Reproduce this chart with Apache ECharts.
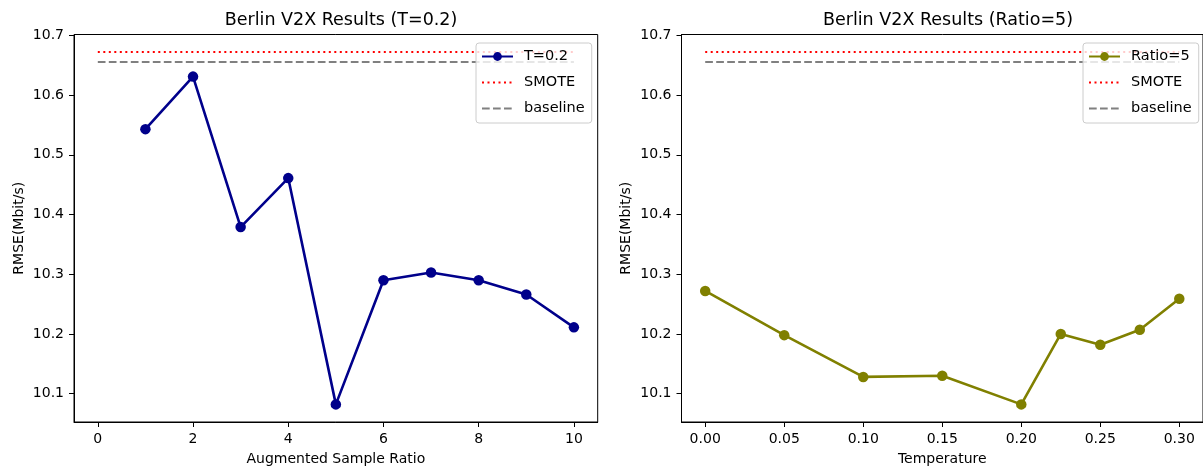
<!DOCTYPE html>
<html><head><meta charset="utf-8">
<script src="https://cdn.jsdelivr.net/npm/echarts@6/dist/echarts.min.js"></script>
<style>html,body{margin:0;padding:0;background:#fff}#c{width:1203px;height:471px}</style>
</head><body><div id="c"></div>
<script>
// ---- data ----
const ratioValues = [1, 2, 3, 4, 5, 6, 7, 8, 9, 10];
const ratioRmse = [10.543, 10.631, 10.379, 10.461, 10.082, 10.290, 10.303, 10.290, 10.266, 10.211];
const tempValues = [0, 0.05, 0.10, 0.15, 0.20, 0.225, 0.25, 0.275, 0.30];
const tempRmse = [10.272, 10.198, 10.128, 10.130, 10.082, 10.200, 10.182, 10.207, 10.259];
const smoteRmse = 10.672;
const baselineRmse = 10.6555;
const ratioTicks = [0, 2, 4, 6, 8, 10];
const tempTicks = [0, 0.05, 0.10, 0.15, 0.20, 0.25, 0.30];
const rmseTicks = [10.1, 10.2, 10.3, 10.4, 10.5, 10.6, 10.7];
const titles = ['Berlin V2X Results (T=0.2)', 'Berlin V2X Results (Ratio=5)'];
const xNames = ['Augmented Sample Ratio', 'Temperature'];
const yName = 'RMSE(Mbit/s)';
const mainNames = ['T=0.2', 'Ratio=5'];

// ---- chart ----
const FF = 'DejaVu Sans';
const chart = echarts.init(document.getElementById('c'), null, {renderer: 'canvas'});
const yMin = 10.0525, yMax = 10.7015;

function xAxis(idx, min, max, ticks, fmt) {
  return {
    type: 'value', gridIndex: idx, min: min, max: max,
    name: xNames[idx], nameLocation: 'middle', nameGap: 30,
    nameTextStyle: {fontFamily: FF, fontSize: 14, color: '#000'},
    axisLine: {show: true, onZero: false, lineStyle: {color: '#000', width: 1}},
    axisTick: {show: true, length: 5, inside: false, customValues: ticks, lineStyle: {color: '#000', width: 1}},
    axisLabel: {customValues: ticks, margin: 10, fontFamily: FF, fontSize: 14, color: '#000', formatter: fmt},
    splitLine: {show: false}
  };
}
function yAxis(idx) {
  return {
    type: 'value', gridIndex: idx, min: yMin, max: yMax,
    name: yName, nameLocation: 'middle', nameGap: 48,
    nameTextStyle: {fontFamily: FF, fontSize: 14, color: '#000'},
    axisLine: {show: true, onZero: false, lineStyle: {color: '#000', width: 1}},
    axisTick: {show: true, length: 5, inside: false, customValues: rmseTicks, lineStyle: {color: '#000', width: 1}},
    axisLabel: {customValues: rmseTicks, margin: 10, fontFamily: FF, fontSize: 14, color: '#000', formatter: v => v.toFixed(1)},
    splitLine: {show: false}
  };
}
function legend(idx, left) {
  return {
    orient: 'vertical', left: left, top: 43,
    data: [
      {name: mainNames[idx]},
      {name: 'SMOTE', itemStyle: {opacity: 0}},
      {name: 'baseline', itemStyle: {opacity: 0}}
    ],
    itemWidth: 31, itemHeight: 11, itemGap: 11,
    padding: [6, 7, 7, 5],
    backgroundColor: 'rgba(255,255,255,0.8)', borderColor: '#cccccc', borderWidth: 1, borderRadius: 3,
    textStyle: {fontFamily: FF, fontSize: 14.5, color: '#000', padding: [0, 0, 0, 6]},
    selectedMode: false, z: 10
  };
}
function mainSeries(idx, xs, ys, color) {
  return {
    type: 'line', name: mainNames[idx], xAxisIndex: idx, yAxisIndex: idx,
    data: xs.map((x, i) => [x, ys[i]]),
    symbol: 'circle', symbolSize: 10.5, showSymbol: true,
    itemStyle: {color: color}, lineStyle: {color: color, width: 2.6}, z: 3
  };
}
function refSeries(idx, name, xs, value, color, dash) {
  return {
    type: 'line', name: name, xAxisIndex: idx, yAxisIndex: idx,
    data: [[xs[0], value], [xs[xs.length - 1], value]],
    symbol: 'none', itemStyle: {color: color},
    lineStyle: {color: color, width: 2, type: dash}, z: 4
  };
}

chart.setOption({
  animation: false,
  backgroundColor: '#fff',
  textStyle: {fontFamily: FF},
  title: [
    {text: titles[0], left: 336, top: 6, textAlign: 'center', textStyle: {fontFamily: FF, fontSize: 17.5, fontWeight: 'normal', color: '#000'}},
    {text: titles[1], left: 943, top: 6, textAlign: 'center', textStyle: {fontFamily: FF, fontSize: 17.5, fontWeight: 'normal', color: '#000'}}
  ],
  grid: [
    {left: 74, top: 34.5, width: 523.7, height: 391.2, show: true, borderColor: '#000', borderWidth: 1, backgroundColor: 'transparent'},
    {left: 681.5, top: 34.5, width: 524, height: 391.2, show: true, borderColor: '#000', borderWidth: 1, backgroundColor: 'transparent'}
  ],
  xAxis: [
    xAxis(0, -0.5, 10.5, ratioTicks, v => String(v)),
    xAxis(1, -0.015, 0.315, tempTicks, v => v.toFixed(2))
  ],
  yAxis: [yAxis(0), yAxis(1)],
  legend: [legend(0, 476), legend(1, 1083)],
  series: [
    mainSeries(0, ratioValues, ratioRmse, '#00008b'),
    refSeries(0, 'SMOTE', ratioTicks, smoteRmse, '#ff0000', [2, 3.5]),
    refSeries(0, 'baseline', ratioTicks, baselineRmse, '#808080', [7.7, 3.3]),
    mainSeries(1, tempValues, tempRmse, '#808000'),
    refSeries(1, 'SMOTE', tempTicks, smoteRmse, '#ff0000', [2, 3.5]),
    refSeries(1, 'baseline', tempTicks, baselineRmse, '#808080', [7.7, 3.3])
  ]
});
</script></body></html>
